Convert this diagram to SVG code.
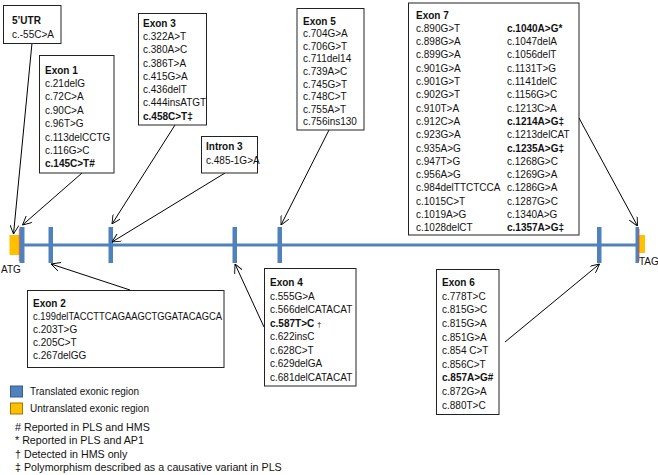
<svg xmlns="http://www.w3.org/2000/svg" width="658" height="475" viewBox="0 0 658 475">
<style>
text{font-family:"Liberation Sans",Arial,sans-serif;font-size:10px;fill:#111}
.b{font-weight:bold}
.n{font-weight:normal}
.box{fill:#fff;stroke:#222;stroke-width:1}
.con{stroke:#000;stroke-width:1;fill:none}
.arr{marker-end:url(#ah)}
.exon{fill:#4F81BD}
.utr{fill:#FFC000}
.leg{font-size:10px}
.fn{font-size:10.7px}
</style>
<defs>
<marker id="ah" viewBox="0 0 10 10" refX="10" refY="5" markerWidth="9" markerHeight="9" orient="auto" markerUnits="userSpaceOnUse">
<path d="M0,0 L10,5 L0,10" fill="none" stroke="#000" stroke-width="1"/>
</marker>
</defs>

<g id="gene">
<rect x="22" y="243.5" width="615" height="3" class="exon"/>
<rect class="utr" x="9.5" y="235" width="10" height="20"/>
<rect class="exon" x="19.5" y="227" width="5" height="36"/>
<line x1="19.3" y1="229" x2="19.3" y2="261" stroke="#C0504D" stroke-width="0.8"/>
<rect class="exon" x="48.5" y="227" width="4.5" height="36"/>
<rect class="exon" x="108.5" y="227" width="4.5" height="36"/>
<rect class="exon" x="232.5" y="227" width="4.5" height="36"/>
<rect class="exon" x="277.5" y="227" width="4.5" height="36"/>
<rect class="exon" x="597" y="227" width="4.5" height="36"/>
<rect class="utr" x="639" y="235" width="6" height="18"/>
<rect class="exon" x="635.5" y="227" width="3.5" height="36"/>
<line x1="639" y1="229" x2="639" y2="261" stroke="#C0504D" stroke-width="0.8"/>
<text x="1" y="273">ATG</text>
<text x="639" y="265">TAG</text>
</g>

<g id="connectors">
<line class="con arr" x1="32" y1="43" x2="13.5" y2="234"/>
<line class="con arr" x1="82" y1="173" x2="22.5" y2="225"/>
<line class="con arr" x1="175" y1="125" x2="112" y2="224"/>
<line class="con arr" x1="225" y1="173" x2="112" y2="242"/>
<line class="con arr" x1="329" y1="130" x2="281" y2="225"/>
<line class="con arr" x1="579" y1="118" x2="637.5" y2="226"/>
<line class="con arr" x1="130" y1="290" x2="51" y2="264"/>
<line class="con arr" x1="264" y1="327" x2="235" y2="264"/>
<line class="con arr" x1="505" y1="342" x2="599.5" y2="264"/>
</g>

<g id="utr5">
<rect class="box" x="3.5" y="5.5" width="57.5" height="38"/>
<text x="12" y="24" class="b">5’UTR</text>
<text x="12" y="37.5">c.-55C&gt;A</text>
</g>

<g id="exon1">
<rect class="box" x="39.5" y="55.5" width="74.5" height="117.5"/>
<text x="45" y="73.5" class="b">Exon 1</text>
<text x="45" y="86.9">c.21delG</text>
<text x="45" y="100.3">c.72C&gt;A</text>
<text x="45" y="113.7">c.90C&gt;A</text>
<text x="45" y="127.1">c.96T&gt;G</text>
<text x="45" y="140.5">c.113delCCTG</text>
<text x="45" y="153.9">c.116G&gt;C</text>
<text x="45" y="167.3" class="b">c.145C&gt;T#</text>
</g>

<g id="exon3">
<rect class="box" x="138.5" y="13.5" width="68" height="111.5"/>
<text x="143" y="26.8" class="b">Exon 3</text>
<text x="143" y="40">c.322A&gt;T</text>
<text x="143" y="53.3">c.380A&gt;C</text>
<text x="143" y="66.5">c.386T&gt;A</text>
<text x="143" y="79.8">c.415G&gt;A</text>
<text x="143" y="93">c.436delT</text>
<text x="143" y="106.3">c.444insATGT</text>
<text x="143" y="119.5" class="b">c.458C&gt;T‡</text>
</g>

<g id="intron3">
<rect class="box" x="201.5" y="136.5" width="56" height="36.5"/>
<text x="206" y="150" class="b">Intron 3</text>
<text x="206" y="163.5">c.485-1G&gt;A</text>
</g>

<g id="exon5">
<rect class="box" x="297" y="8.5" width="67" height="121.5"/>
<text x="303" y="24.5" class="b">Exon 5</text>
<text x="303" y="37.1">c.704G&gt;A</text>
<text x="303" y="49.7">c.706G&gt;T</text>
<text x="303" y="62.3">c.711del14</text>
<text x="303" y="74.9">c.739A&gt;C</text>
<text x="303" y="87.5">c.745G&gt;T</text>
<text x="303" y="100.1">c.748C&gt;T</text>
<text x="303" y="112.7">c.755A&gt;T</text>
<text x="303" y="125.3">c.756ins130</text>
</g>

<g id="exon7">
<rect class="box" x="408.5" y="3" width="170.5" height="232"/>
<text x="416" y="18.5" class="b">Exon 7</text>
<text x="416" y="31.8">c.890G&gt;T</text>
<text x="416" y="45.1">c.898G&gt;A</text>
<text x="416" y="58.4">c.899G&gt;A</text>
<text x="416" y="71.7">c.901G&gt;A</text>
<text x="416" y="85">c.901G&gt;T</text>
<text x="416" y="98.3">c.902G&gt;T</text>
<text x="416" y="111.6">c.910T&gt;A</text>
<text x="416" y="124.9">c.912C&gt;A</text>
<text x="416" y="138.2">c.923G&gt;A</text>
<text x="416" y="151.5">c.935A&gt;G</text>
<text x="416" y="164.8">c.947T&gt;G</text>
<text x="416" y="178.1">c.956A&gt;G</text>
<text x="416" y="191.4">c.984delTTCTCCA</text>
<text x="416" y="204.7">c.1015C&gt;T</text>
<text x="416" y="218">c.1019A&gt;G</text>
<text x="416" y="231.3">c.1028delCT</text>
<text x="507" y="31.8" class="b">c.1040A&gt;G*</text>
<text x="507" y="45.1">c.1047delA</text>
<text x="507" y="58.4">c.1056delT</text>
<text x="507" y="71.7">c.1131T&gt;G</text>
<text x="507" y="85">c.1141delC</text>
<text x="507" y="98.3">c.1156G&gt;C</text>
<text x="507" y="111.6">c.1213C&gt;A</text>
<text x="507" y="124.9" class="b">c.1214A&gt;G‡</text>
<text x="507" y="138.2">c.1213delCAT</text>
<text x="507" y="151.5" class="b">c.1235A&gt;G‡</text>
<text x="507" y="164.8">c.1268G&gt;C</text>
<text x="507" y="178.1">c.1269G&gt;A</text>
<text x="507" y="191.4">c.1286G&gt;A</text>
<text x="507" y="204.7">c.1287G&gt;C</text>
<text x="507" y="218">c.1340A&gt;G</text>
<text x="507" y="231.3" class="b">c.1357A&gt;G‡</text>
</g>

<g id="exon2">
<rect class="box" x="27.5" y="290.5" width="196.5" height="77"/>
<text x="33" y="306.5" class="b">Exon 2</text>
<text x="33" y="319.5" textLength="189" lengthAdjust="spacingAndGlyphs">c.199delTACCTTCAGAAGCTGGATACAGCA</text>
<text x="33" y="332.5">c.203T&gt;G</text>
<text x="33" y="345.5">c.205C&gt;T</text>
<text x="33" y="358.5">c.267delGG</text>
</g>

<g id="exon4">
<rect class="box" x="264.5" y="268.5" width="91.5" height="117.5"/>
<text x="270" y="286" class="b">Exon 4</text>
<text x="270" y="299.5">c.555G&gt;A</text>
<text x="270" y="313">c.566delCATACAT</text>
<text x="270" y="326.5" class="b">c.587T&gt;C <tspan class="n" font-size="8">†</tspan></text>
<text x="270" y="340">c.622insC</text>
<text x="270" y="353.5">c.628C&gt;T</text>
<text x="270" y="367">c.629delGA</text>
<text x="270" y="380.5">c.681delCATACAT</text>
</g>

<g id="exon6">
<rect class="box" x="436.5" y="269.5" width="62.5" height="145"/>
<text x="442" y="286.2" class="b">Exon 6</text>
<text x="442" y="299.8">c.778T&gt;C</text>
<text x="442" y="313.4">c.815G&gt;C</text>
<text x="442" y="327">c.815G&gt;A</text>
<text x="442" y="340.6">c.851G&gt;A</text>
<text x="442" y="354.2">c.854 C&gt;T</text>
<text x="442" y="367.8">c.856C&gt;T</text>
<text x="442" y="381.4" class="b">c.857A&gt;G#</text>
<text x="442" y="395">c.872G&gt;A</text>
<text x="442" y="408.6">c.880T&gt;C</text>
</g>

<g id="legend">
<rect x="10.5" y="386" width="12" height="11" fill="#4F81BD" stroke="#385D8A" stroke-width="1"/>
<text x="30" y="394.5" class="leg">Translated exonic region</text>
<rect x="10.5" y="403" width="12" height="11" fill="#FFC000" stroke="#A07800" stroke-width="1"/>
<text x="30" y="412" class="leg">Untranslated exonic region</text>
<text x="15" y="430.5" class="fn"># Reported in PLS and HMS</text>
<text x="15" y="444" class="fn">* Reported in PLS and AP1</text>
<text x="15" y="457.5" class="fn">† Detected in HMS only</text>
<text x="15" y="471" class="fn">‡ Polymorphism described as a causative variant in PLS</text>
</g>
</svg>
